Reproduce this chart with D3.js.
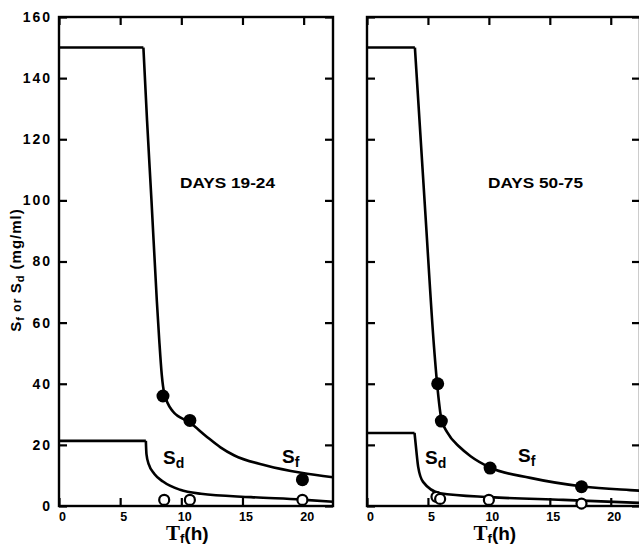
<!DOCTYPE html>
<html><head><meta charset="utf-8">
<script src="https://cdn.jsdelivr.net/npm/d3@7"></script>
<style>
html,body{margin:0;padding:0;background:#fff;}
svg{display:block;font-family:"Liberation Sans",Arial,sans-serif;font-weight:bold;}
</style></head>
<body><svg id="c" width="639" height="549"></svg>
<script>
// ---- data ----
const yTicks = [0,20,40,60,80,100,120,140,160];
const xTicks = [0,5,10,15,20];
const panelTitles = ["DAYS 19-24","DAYS 50-75"];

// Days 19-24
const leftSfT = [0, 6.9, 7.2, 7.56, 8.0, 8.2, 8.4, 8.6, 9.3, 10.7, 12.1, 13.2, 14.3, 17, 19.8, 22.4];
const leftSfS = [150, 150, 126, 100, 67, 54, 43, 37, 31, 27.3, 22.6, 19.2, 16.6, 13.2, 10.9, 9.4];
const leftSdT = [0, 7.1, 7.15, 7.35, 7.8, 8.5, 9.9, 11.6, 15.7, 19.8, 22.4];
const leftSdS = [21.3, 21.3, 17, 13.5, 10.5, 8, 5.3, 4.0, 2.9, 2.1, 1.4];
const leftFilledT = [8.5, 10.7, 19.9];
const leftFilledS = [36, 28, 8.6];
const leftOpenT = [8.6, 10.7, 19.9];
const leftOpenS = [2, 2, 2];

// Days 50-75
const rightSfT = [0, 3.93, 4.8, 5.5, 5.8, 6.1, 6.6, 7.6, 8.5, 10.1, 13.4, 17.7, 21.6, 22.4];
const rightSfS = [150, 150, 95, 52, 38, 28.5, 24, 19.3, 16.3, 12.6, 9.2, 6.4, 5.2, 5.0];
const rightSdT = [0, 3.9, 4.05, 4.2, 4.6, 6.0, 10.1, 16.1, 22.4];
const rightSdS = [23.9, 23.9, 18, 12.8, 7.9, 4.2, 2.9, 2.0, 1.0];
const rightFilledT = [5.8, 6.1, 10.1, 17.6];
const rightFilledS = [40, 27.8, 12.4, 6.3];
const rightOpenT = [5.7, 6.0, 10.0, 17.6];
const rightOpenS = [3, 2.3, 2, 0.8];

// ---- drawing ----
const svg = d3.select("#c");
const y = d3.scaleLinear().domain([0,160]).range([506,17]);
const xL = d3.scaleLinear().domain([0,22.4]).range([59,333]);
const xR = d3.scaleLinear().domain([0,22.4]).range([367,640]);

function zip(a,b){return a.map((v,i)=>[v,b[i]]);}

function drawPanel(x, showLabels, sf, sd, filled, open, title, titleX, labels){
  const g = svg.append("g");
  g.append("rect").attr("x",x(0)).attr("y",y(160))
    .attr("width",x(22.4)-x(0)).attr("height",y(0)-y(160))
    .attr("fill","none").attr("stroke","#000").attr("stroke-width",2.4);
  const la = g.append("g").attr("transform",`translate(${x(0)},0)`)
    .call(d3.axisLeft(y).tickValues(yTicks).tickSize(-8).tickPadding(7)
      .tickFormat(showLabels? d3.format("d") : ()=>""));
  const ra = g.append("g").attr("transform",`translate(${x(22.4)},0)`)
    .call(d3.axisRight(y).tickValues(yTicks).tickSize(-8).tickFormat(()=>""));
  const ba = g.append("g").attr("transform",`translate(0,${y(0)})`)
    .call(d3.axisBottom(x).tickValues(xTicks).tickSize(-8).tickPadding(6).tickFormat(d3.format("d")));
  const ta = g.append("g").attr("transform",`translate(0,${y(160)})`)
    .call(d3.axisTop(x).tickValues(xTicks).tickSize(-8).tickFormat(()=>""));
  [la,ra,ba,ta].forEach(a=>{
    a.select(".domain").remove();
    a.selectAll(".tick line").attr("stroke","#000").attr("stroke-width",2.2);
  });
  la.selectAll(".tick text").attr("font-size",14).attr("font-weight","bold")
    .attr("font-family","'Liberation Sans',Arial,sans-serif").attr("letter-spacing","2px").attr("fill","#000");
  ba.selectAll(".tick text").attr("font-size",12.5).attr("font-weight","bold")
    .attr("font-family","'Liberation Sans',Arial,sans-serif").attr("dx",3).attr("fill","#000");

  const line = d3.line().x(d=>x(d[0])).y(d=>y(d[1])).curve(d3.curveMonotoneX);
  [sf, sd].forEach(pts=>{
    g.append("path").attr("d", d3.line().x(d=>x(d[0])).y(d=>y(d[1]))(pts.slice(0,2)))
      .attr("fill","none").attr("stroke","#000").attr("stroke-width",2.6);
    g.append("path").attr("d", line(pts.slice(1)))
      .attr("fill","none").attr("stroke","#000").attr("stroke-width",2.6);
  });
  g.selectAll(".filled").data(filled).join("circle")
    .attr("cx",d=>x(d[0])).attr("cy",d=>y(d[1])).attr("r",6.5).attr("fill","#000");
  g.selectAll(".open").data(open).join("circle")
    .attr("cx",d=>x(d[0])).attr("cy",d=>y(d[1])).attr("r",5).attr("fill","#fff")
    .attr("stroke","#000").attr("stroke-width",2.2);

  g.append("text").attr("x",titleX).attr("y",188).attr("font-size",15.5)
    .attr("textLength",95).attr("lengthAdjust","spacingAndGlyphs").text(title);

  labels.forEach(l=>{
    const t = g.append("text").attr("x",l.x).attr("y",l.y).attr("font-size",19);
    t.append("tspan").text("S");
    t.append("tspan").attr("font-size",14).attr("dy",4).text(l.sub);
  });

  const tx = g.append("text").attr("x",x(10)+6).attr("y",540).attr("text-anchor","middle");
  tx.append("tspan").attr("font-family","'Liberation Serif',serif").attr("font-size",21).text("T");
  tx.append("tspan").attr("font-size",13).attr("dy",3).text("f");
  tx.append("tspan").attr("font-size",19).attr("dy",-3).text("(h)");
}

drawPanel(xL, true, zip(leftSfT,leftSfS), zip(leftSdT,leftSdS),
  zip(leftFilledT,leftFilledS), zip(leftOpenT,leftOpenS), panelTitles[0], 180,
  [{x:163,y:464,sub:"d"},{x:282,y:463,sub:"f"}]);
drawPanel(xR, false, zip(rightSfT,rightSfS), zip(rightSdT,rightSdS),
  zip(rightFilledT,rightFilledS), zip(rightOpenT,rightOpenS), panelTitles[1], 488,
  [{x:425,y:464,sub:"d"},{x:518,y:462,sub:"f"}]);

const yt = svg.append("text").attr("transform","translate(21,270) rotate(-90)")
  .attr("text-anchor","middle").attr("font-size",15).attr("letter-spacing","1px");
yt.append("tspan").text("S");
yt.append("tspan").attr("font-size",11).attr("dy",3).text("f");
yt.append("tspan").attr("font-size",12).attr("dy",-3).text(" or ");
yt.append("tspan").text("S");
yt.append("tspan").attr("font-size",11).attr("dy",3).text("d");
yt.append("tspan").attr("dy",-3).text(" (mg/ml)");
</script></body></html>
